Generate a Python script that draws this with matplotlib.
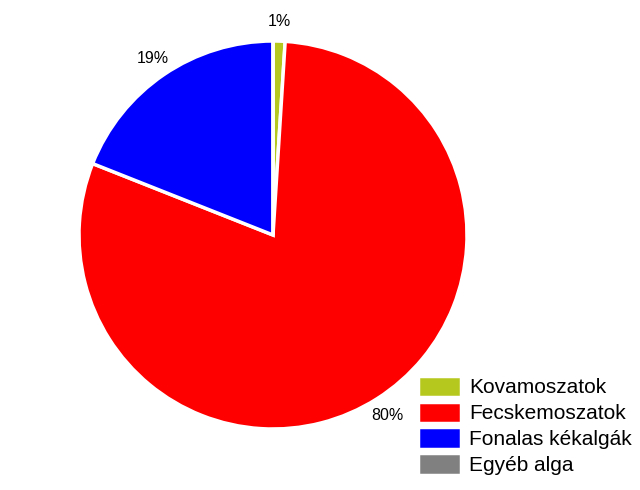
import matplotlib.pyplot as plt
import numpy as np

plt.rcParams["font.family"] = ["Liberation Sans", "DejaVu Sans"]

categories = ["Kovamoszatok", "Fecskemoszatok", "Fonalas kékalgák", "Egyéb alga"]
shares = [1, 80, 19, 0]
pct_labels = ["1%", "80%", "19%", ""]
colors = ["#b5c81e", "#ff0000", "#0000ff", "#808080"]

fig = plt.figure(figsize=(6.4, 4.9), dpi=100)
# square box holding the pie, center ~ (273, 235) px, radius ~194 px
ax = fig.add_axes([79 / 640, 61 / 490, 388 / 640, 388 / 490])

wedges, _ = ax.pie(
    shares,
    colors=colors,
    startangle=90,
    counterclock=False,
    radius=1.0,
    wedgeprops=dict(edgecolor="white", linewidth=2.5),
)

for w, txt in zip(wedges, pct_labels):
    if not txt:
        continue
    mid = np.radians((w.theta1 + w.theta2) / 2)
    ax.text(1.1 * np.cos(mid), 1.1 * np.sin(mid), txt,
            ha="center", va="center", fontsize=11.5)

ax.set_xlim(-1, 1)
ax.set_ylim(-1, 1)
ax.set_aspect("equal")
ax.axis("off")

fig.legend(
    wedges, categories,
    loc="lower left",
    bbox_to_anchor=(418 / 640, 15 / 490),
    frameon=False,
    fontsize=15,
    borderpad=0,
    borderaxespad=0,
    handlelength=2.05,
    handleheight=1.2,
    handletextpad=0.4,
    labelspacing=0.2,
)

fig.savefig("out.png", dpi=100)
